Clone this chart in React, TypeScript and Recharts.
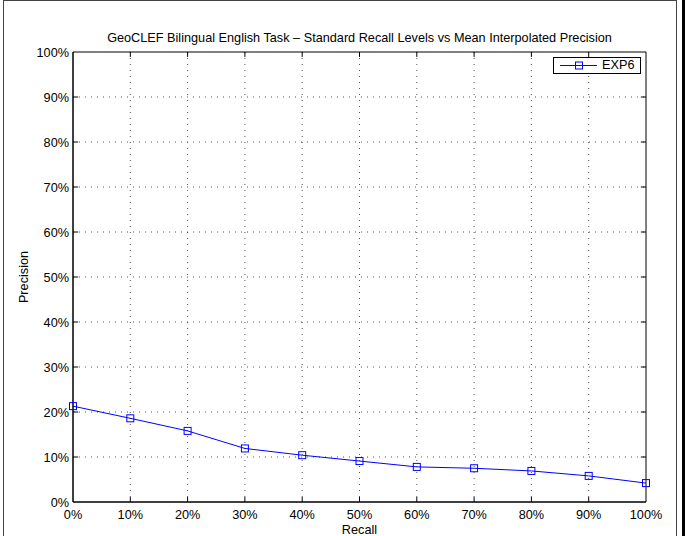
import {
  LineChart,
  Line,
  XAxis,
  YAxis,
  CartesianGrid,
  Legend,
  ReferenceArea,
  ReferenceLine,
  Label,
} from "recharts";

const recallLevels = [0, 10, 20, 30, 40, 50, 60, 70, 80, 90, 100];
const exp6Precision = [21.3, 18.6, 15.8, 11.9, 10.4, 9.1, 7.8, 7.5, 6.9, 5.8, 4.2];
const percentTicks = [0, 10, 20, 30, 40, 50, 60, 70, 80, 90, 100];
const innerTicks = [10, 20, 30, 40, 50, 60, 70, 80, 90];

const data = recallLevels.map((r, i) => ({ recall: r, exp6: exp6Precision[i] }));

const FONT = "'Liberation Sans', Arial, Helvetica, sans-serif";
const FS = 12.7;
const BLUE = "#0000ff";
const pct = (v: number) => `${v}%`;

function SquareDot(props: any) {
  const { cx, cy, index } = props;
  if (cx == null || cy == null) return null;
  return (
    <rect
      key={`sq-${index}`}
      x={cx - 3.5}
      y={cy - 3.5}
      width={7}
      height={7}
      fill="none"
      stroke={BLUE}
      strokeWidth={1}
    />
  );
}

function LegendBox() {
  return (
    <div
      style={{
        boxSizing: "border-box",
        width: 88,
        height: 17,
        border: "1px solid #000",
        background: "#fff",
        display: "flex",
        alignItems: "center",
        fontFamily: FONT,
        fontSize: FS,
        color: "#000",
      }}
    >
      <svg width={48} height={15} style={{ display: "block" }}>
        <line x1={6} y1={7.5} x2={43} y2={7.5} stroke={BLUE} strokeWidth={1} />
        <rect x={21.5} y={4} width={7} height={7} fill="none" stroke={BLUE} />
      </svg>
      <span style={{ lineHeight: "15px" }}>EXP6</span>
    </div>
  );
}

export default function App() {
  return (
    <div
      style={{
        position: "absolute",
        left: 0,
        top: 0,
        width: 685,
        height: 536,
        background: "#fff",
        overflow: "hidden",
      }}
    >
      {/* figure frame */}
      <div
        style={{
          position: "absolute",
          left: 3,
          top: 0,
          width: 672,
          height: 540,
          borderLeft: "1px solid #444",
          borderTop: "1px solid #444",
          borderRight: "1px solid #444",
        }}
      />
      <div
        style={{ position: "absolute", left: 682, top: 0, width: 3, height: 536, background: "#000" }}
      />
      <div
        style={{
          position: "absolute",
          left: 73,
          top: 31,
          width: 573,
          textAlign: "center",
          fontFamily: FONT,
          fontSize: FS,
          lineHeight: "15px",
          color: "#000",
          whiteSpace: "nowrap",
        }}
      >
        GeoCLEF Bilingual English Task – Standard Recall Levels vs Mean Interpolated Precision
      </div>
      <LineChart
        width={685}
        height={536}
        data={data}
        margin={{ top: 52, right: 39, bottom: 0, left: 13 }}
        style={{ position: "absolute", left: 0, top: 0 }}
      >
        <CartesianGrid
          stroke="#555"
          strokeDasharray="1 5"
          horizontalValues={innerTicks}
          verticalValues={innerTicks}
        />
        <XAxis
          dataKey="recall"
          type="number"
          domain={[0, 100]}
          ticks={percentTicks}
          tickFormatter={pct}
          tickLine={false}
          axisLine={{ stroke: "#000" }}
          height={34}
          tick={{ fill: "#000", fontSize: FS, fontFamily: FONT }}
        >
          <Label
            content={(p: any) => (
              <text
                x={p.viewBox.x + p.viewBox.width / 2}
                y={534}
                textAnchor="middle"
                fill="#000"
                fontSize={FS}
                fontFamily={FONT}
              >
                Recall
              </text>
            )}
          />
        </XAxis>
        <YAxis
          type="number"
          domain={[0, 100]}
          ticks={percentTicks}
          tickFormatter={pct}
          tickLine={false}
          tickSize={4}
          tickMargin={0}
          axisLine={{ stroke: "#000" }}
          width={60}
          tick={{ fill: "#000", fontSize: FS, fontFamily: FONT }}
        >
          <Label
            content={(p: any) => {
              const cy = p.viewBox.y + p.viewBox.height / 2;
              return (
                <text
                  x={28}
                  y={cy}
                  transform={`rotate(-90, 28, ${cy})`}
                  textAnchor="middle"
                  fill="#000"
                  fontSize={FS}
                  fontFamily={FONT}
                >
                  Precision
                </text>
              );
            }}
          />
        </YAxis>
        <ReferenceArea
          x1={0}
          x2={100}
          y1={0}
          y2={100}
          fill="none"
          stroke="#000"
          strokeWidth={1}
          ifOverflow="visible"
        />
        {innerTicks.map((t) => (
          <ReferenceLine
            key={`xb-${t}`}
            segment={[{ x: t, y: 0 }, { x: t, y: 1.1 }]}
            stroke="#000"
          />
        ))}
        {innerTicks.map((t) => (
          <ReferenceLine
            key={`xt-${t}`}
            segment={[{ x: t, y: 100 }, { x: t, y: 98.9 }]}
            stroke="#000"
          />
        ))}
        {innerTicks.map((t) => (
          <ReferenceLine
            key={`yl-${t}`}
            segment={[{ x: 0, y: t }, { x: 0.9, y: t }]}
            stroke="#000"
          />
        ))}
        {innerTicks.map((t) => (
          <ReferenceLine
            key={`yr-${t}`}
            segment={[{ x: 100, y: t }, { x: 99.1, y: t }]}
            stroke="#000"
          />
        ))}
        <Legend
          layout="horizontal"
          verticalAlign="middle"
          align="center"
          content={() => <LegendBox />}
          wrapperStyle={{ left: 553, top: 57, width: 88, height: 17 }}
        />
        <Line
          type="linear"
          dataKey="exp6"
          stroke={BLUE}
          strokeWidth={1}
          dot={SquareDot}
          activeDot={false}
          isAnimationActive={false}
        />
      </LineChart>
    </div>
  );
}
